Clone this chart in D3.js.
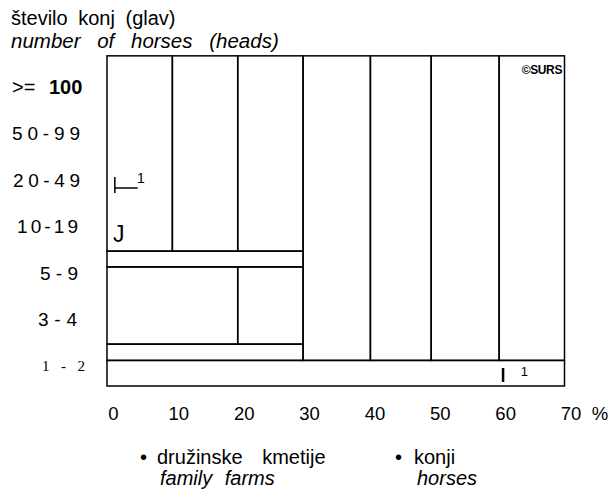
<!DOCTYPE html>
<html><head><meta charset="utf-8">
<script src="https://cdn.jsdelivr.net/npm/d3@7"></script>
<style>
html,body{margin:0;padding:0;background:#fff;}
svg{display:block;font-family:"Liberation Sans",Arial,sans-serif;}
</style></head>
<body><svg id="c" width="608" height="497"></svg>
<script>
// ---- data ----
const categories = [">= 100", "50-99", "20-49", "10-19", "5 - 9", "3 - 4", "1 - 2"];
const xTicks = [0, 10, 20, 30, 40, 50, 60, 70];
// outlined cells: share range in % (x) and span in category rows (y)
const cellFrom = [0, 10, 20, 30, 40.3, 49.6, 60, 0, 0, 20, 0, 0];
const cellTo   = [10, 20, 30, 40.3, 49.6, 60, 70, 30, 20, 30, 30, 70];
const rowFrom  = [-0.67, -0.67, -0.67, -0.67, -0.67, -0.67, -0.67, 3.53, 3.87, 3.87, 5.53, 5.88];
const rowTo    = [3.53, 3.53, 3.53, 5.88, 5.88, 5.88, 5.88, 3.87, 5.53, 5.53, 5.88, 6.43];
const legendSl = ["družinske kmetije", "konji"];
const legendEn = ["family farms", "horses"];

// ---- scales ----
const svg = d3.select("#c");
const x = d3.scaleLinear().domain([0, 70]).range([107, 564.5]);
const y = d3.scaleLinear().domain([0, 6]).range([87, 366]);

// titles
svg.append("text").attr("x", 11).attr("y", 25).attr("font-size", 20)
  .style("word-spacing", "5px").text("število konj (glav)");
svg.append("text").attr("x", 11).attr("y", 48).attr("font-size", 20.5)
  .attr("font-style", "italic").style("word-spacing", "11px").text("number of horses (heads)");

// cells
const cells = cellFrom.map((v, i) => ({x0: v, x1: cellTo[i], y0: rowFrom[i], y1: rowTo[i]}));
svg.append("g").selectAll("rect").data(cells).join("rect")
  .attr("x", d => x(d.x0)).attr("y", d => y(d.y0))
  .attr("width", d => x(d.x1) - x(d.x0)).attr("height", d => y(d.y1) - y(d.y0))
  .attr("fill", "none").attr("stroke", "#000").attr("stroke-width", 1.5);

// y labels (layout: start and spread of each label)
const labStart = [12, 12, 13, 17, 40, 38, 42];
const labLen   = [null, 68, 67, 61, 38, 39, 43];
const yl = svg.append("g");
categories.forEach((c, i) => {
  const t = yl.append("text").attr("y", y(i)).attr("dy", "0.36em").attr("x", labStart[i]);
  if (i === 0) {
    t.attr("font-size", 20);
    t.append("tspan").text(">=");
    t.append("tspan").attr("x", 49).attr("font-weight", "bold").text("100");
  } else if (i === categories.length - 1) {
    t.attr("font-size", 15).attr("font-family", "Liberation Serif, serif")
      .attr("textLength", labLen[i]).attr("lengthAdjust", "spacing").text(c);
  } else {
    t.attr("font-size", 19).attr("textLength", labLen[i]).attr("lengthAdjust", "spacing").text(c);
  }
});

// x axis labels
const ax = svg.append("g").attr("transform", "translate(6,0)")
  .call(d3.axisBottom(x).tickValues(xTicks).tickSize(0).tickFormat(d3.format("d")));
ax.select(".domain").remove();
ax.selectAll("text").attr("y", 420).attr("dy", null).attr("font-size", 18.5)
  .attr("font-family", "Liberation Sans, Arial, sans-serif").attr("fill", "#000");
svg.append("text").attr("x", 600).attr("y", 420).attr("text-anchor", "middle")
  .attr("font-size", 18.5).text("%");

// annotations
svg.append("path").attr("d", `M${x(1.2)},177V193M${x(1.2)},188H${x(4.7)}`)
  .attr("stroke", "#000").attr("stroke-width", 1.5).attr("fill", "none");
svg.append("text").attr("x", x(4.6)).attr("y", 183).attr("font-size", 14).text("1");
svg.append("text").attr("x", x(0.9)).attr("y", 242).attr("font-size", 23).text("J");
svg.append("path").attr("d", `M${x(60.6)},368V382`).attr("stroke", "#000").attr("stroke-width", 2.5);
svg.append("text").attr("x", x(63.3)).attr("y", 376).attr("font-size", 13).text("1");
svg.append("text").attr("x", 562).attr("y", 74).attr("text-anchor", "end")
  .attr("font-size", 12).attr("font-weight", "bold").style("letter-spacing", "-0.4px").text("©SURS");

// legend
const bx = [140, 395], tx = [157, 414];
legendSl.forEach((s, i) => {
  svg.append("text").attr("x", bx[i]).attr("y", 464).attr("font-size", 20).text("•");
  svg.append("text").attr("x", tx[i]).attr("y", 464).attr("font-size", 20)
    .style("word-spacing", "14px").text(s);
  svg.append("text").attr("x", tx[i] + 3).attr("y", 485).attr("font-size", 20)
    .attr("font-style", "italic").style("word-spacing", "7px").text(legendEn[i]);
});
</script></body></html>
